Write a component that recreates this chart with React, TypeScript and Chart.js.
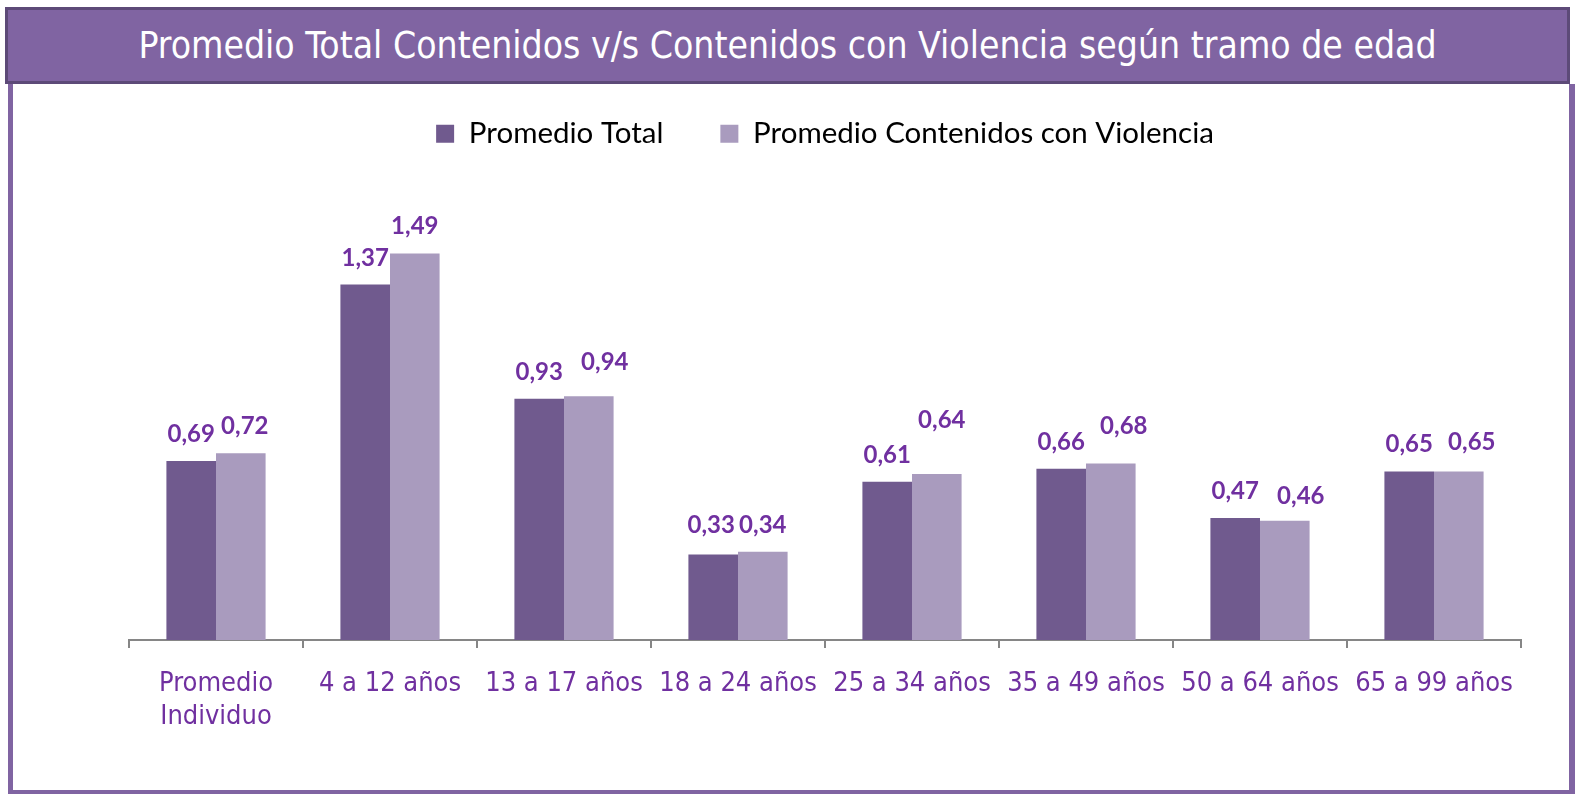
import React, { useEffect, useRef } from 'react';
import { Chart, registerables } from 'chart.js';

Chart.register(...registerables);

const titleText = 'Promedio Total Contenidos v/s Contenidos con Violencia según tramo de edad';
const categories: (string | string[])[] = [
  ['Promedio', 'Individuo'],
  '4 a 12 años',
  '13 a 17 años',
  '18 a 24 años',
  '25 a 34 años',
  '35 a 49 años',
  '50 a 64 años',
  '65 a 99 años',
];
const seriesNames = ['Promedio Total', 'Promedio Contenidos con Violencia'];
const totalValues = [0.69, 1.37, 0.93, 0.33, 0.61, 0.66, 0.47, 0.65];
const violenceValues = [0.72, 1.49, 0.94, 0.34, 0.64, 0.68, 0.46, 0.65];

// manual label nudges (px, relative to default spot above bar): [dx, extra lift]
const totalLabelNudge: [number, number][] = [
  [0, 0], [0, 0], [0, 0], [-2, 2], [0, 0], [0, 0], [0, 0], [0, 0],
];
const violenceLabelNudge: [number, number][] = [
  [4, 0], [0, 0], [16, 7], [0, 0], [5, 27], [13, 11], [16, -2], [13, 2],
];

const DARK = '#705A8E';
const LIGHT = '#A99BBE';
const LABEL_PURPLE = '#7030A0';
const AXIS_GRAY = '#868686';

const fmt = (v: number) => v.toFixed(2).replace('.', ',');

const dataLabelPlugin = {
  id: 'barValueLabels',
  afterDatasetsDraw(chart: any) {
    const ctx = chart.ctx;
    const nudges = [totalLabelNudge, violenceLabelNudge];
    ctx.save();
    ctx.font = 'bold 24px Lato';
    ctx.fillStyle = LABEL_PURPLE;
    ctx.textAlign = 'center';
    ctx.textBaseline = 'alphabetic';
    chart.data.datasets.forEach((ds: any, di: number) => {
      const meta = chart.getDatasetMeta(di);
      meta.data.forEach((el: any, i: number) => {
        const [dx, lift] = nudges[di][i];
        ctx.fillText(fmt(ds.data[i]), el.x + dx, el.y - 19 - lift);
      });
    });
    ctx.restore();
  },
};

const legendHeightPlugin = {
  id: 'legendHeight',
  beforeInit(chart: any) {
    const legend = chart.legend;
    if (!legend) return;
    const origFit = legend.fit;
    legend.fit = function () {
      origFit.call(this);
      this.height = 137;
    };
  },
};

export default function App() {
  const canvasRef = useRef<HTMLCanvasElement | null>(null);

  useEffect(() => {
    const canvas = canvasRef.current;
    if (!canvas) return;
    const chart = new Chart(canvas, {
      type: 'bar',
      data: {
        labels: categories,
        datasets: [
          {
            label: seriesNames[0],
            data: totalValues,
            backgroundColor: DARK,
            barPercentage: 1,
            categoryPercentage: 0.57,
          },
          {
            label: seriesNames[1],
            data: violenceValues,
            backgroundColor: LIGHT,
            barPercentage: 1,
            categoryPercentage: 0.57,
          },
        ],
      },
      options: {
        animation: false,
        responsive: false,
        devicePixelRatio: 1,
        layout: { padding: { left: 129, right: 54, top: 62, bottom: 10 } },
        plugins: {
          legend: {
            position: 'top',
            labels: {
              color: '#000000',
              font: { family: 'Lato', size: 29.5 },
              boxWidth: 18,
              boxHeight: 18,
              padding: 57,
            },
          },
          title: { display: false },
          tooltip: { enabled: false },
        },
        scales: {
          x: {
            offset: true,
            grid: {
              display: true,
              drawOnChartArea: false,
              drawTicks: true,
              tickLength: 8,
              color: AXIS_GRAY,
              lineWidth: 2,
              offset: true,
            },
            border: { display: true, color: AXIS_GRAY, width: 2 },
            ticks: {
              color: LABEL_PURPLE,
              font: { family: '"DejaVu Sans Condensed", "DejaVu Sans"', size: 27, lineHeight: 1.222 },
              padding: 19,
              maxRotation: 0,
              autoSkip: false,
            },
            afterFit: (s: any) => {
              s.height = 144;
            },
          },
          y: {
            display: false,
            min: 0,
            max: 1.7,
          },
        },
      },
      plugins: [dataLabelPlugin, legendHeightPlugin],
    });
    return () => chart.destroy();
  }, []);

  return (
    <div style={{ position: 'fixed', left: 0, top: 0, width: 1575, height: 794, background: '#ffffff', overflow: 'hidden' }}>
      <div
        style={{
          position: 'absolute',
          left: 8,
          top: 84,
          width: 1567,
          height: 710,
          boxSizing: 'border-box',
          borderLeft: '5px solid #8064A2',
          borderRight: '6px solid #8064A2',
          borderBottom: '4px solid #8064A2',
        }}
      />
      <div
        style={{
          position: 'absolute',
          left: 5,
          top: 7,
          width: 1565,
          height: 77,
          boxSizing: 'border-box',
          border: '3px solid #5D4A78',
          background: '#8064A2',
          color: '#ffffff',
          display: 'flex',
          alignItems: 'center',
          justifyContent: 'center',
          fontFamily: '"DejaVu Sans Condensed", "DejaVu Sans"',
          fontSize: 37,
          whiteSpace: 'nowrap',
        }}
      >
        {titleText}
      </div>
      <canvas
        ref={canvasRef}
        width={1575}
        height={794}
        style={{ position: 'absolute', left: 0, top: 0, width: 1575, height: 794 }}
      />
    </div>
  );
}
